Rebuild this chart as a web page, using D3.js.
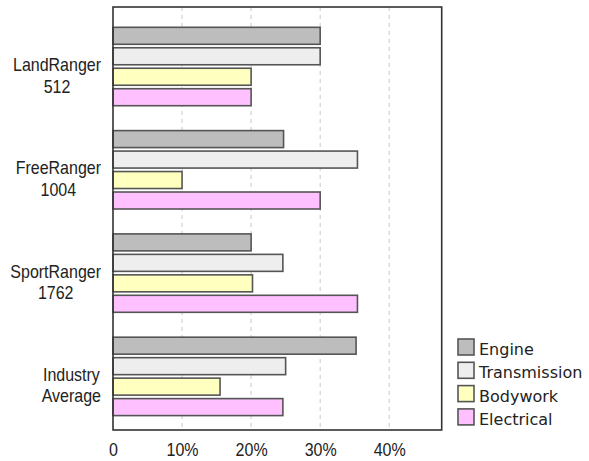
<!DOCTYPE html>
<html><head><meta charset="utf-8">
<script src="https://cdn.jsdelivr.net/npm/d3@7"></script>
<style>html,body{margin:0;padding:0;background:#fff;}</style>
</head><body><svg id="c" width="589" height="461"></svg>
<script>
const categories = [["LandRanger","512"],["FreeRanger","1004"],["SportRanger","1762"],["Industry","Average"]];
const seriesNames = ["Engine","Transmission","Bodywork","Electrical"];
const engine       = [0.30, 0.247, 0.20, 0.352];
const transmission = [0.30, 0.354, 0.246, 0.25];
const bodywork     = [0.20, 0.10, 0.202, 0.155];
const electrical   = [0.20, 0.30, 0.354, 0.246];
const seriesValues = [engine, transmission, bodywork, electrical];
const colors = ["#bdbdbd","#eeeeee","#ffffc0","#ffc0ff"];
const tickValues = [0, 0.1, 0.2, 0.3, 0.4];
const tickLabels = ["0","10%","20%","30%","40%"];

const svg = d3.select("#c");
const L = 113, R = 441.7, T = 7, B = 430;
const x = d3.scaleLinear().domain([0, 0.476]).range([L, R]);
const catKeys = categories.map(c => c.join(" "));
const y0 = d3.scaleBand().domain(catKeys).range([T, B]).paddingInner(0.241).paddingOuter(0.168).align(0.585);
const y1 = d3.scaleBand().domain(seriesNames).range([0, y0.bandwidth()]).paddingInner(0.17).paddingOuter(0);

// grid
svg.append("g").selectAll("line").data(tickValues.slice(1)).join("line")
  .attr("x1", d => x(d)).attr("x2", d => x(d)).attr("y1", T).attr("y2", B)
  .attr("stroke", "#c8c8c8").attr("stroke-width", 1).attr("stroke-dasharray", "4,4");

// bars
const g = svg.append("g");
categories.forEach((cat, ci) => {
  seriesNames.forEach((s, si) => {
    g.append("rect")
      .attr("x", x(0)).attr("y", y0(catKeys[ci]) + y1(s))
      .attr("width", x(seriesValues[si][ci]) - x(0)).attr("height", y1.bandwidth())
      .attr("fill", colors[si]).attr("stroke", "#555").attr("stroke-width", 1.6);
  });
});

// plot border
svg.append("rect").attr("x", L).attr("y", T).attr("width", R - L).attr("height", B - T)
  .attr("fill", "none").attr("stroke", "#333").attr("stroke-width", 1.6);

// x axis
const ax = svg.append("g").attr("transform", `translate(0,${B})`)
  .call(d3.axisBottom(x).tickValues(tickValues).tickFormat((d, i) => tickLabels[i]).tickSize(0));
ax.select(".domain").remove();
ax.selectAll("text").attr("y", 0).attr("dy", 0)
  .attr("transform", "translate(0,26) scale(1,1.2)")
  .attr("font-family", "Liberation Sans, Arial, sans-serif").attr("font-size", 16).attr("fill", "#222");

// category labels
const labRight = 101;
categories.forEach((cat, ci) => {
  const cy = y0(catKeys[ci]) + y0.bandwidth() / 2;
  const grp = svg.append("g");
  const texts = cat.map((line, li) => grp.append("text")
    .attr("font-family", "Liberation Sans, Arial, sans-serif").attr("font-size", 16)
    .attr("fill", "#222").attr("text-anchor", "middle").text(line)
    .attr("transform", `translate(0,${cy + 4.5 + li * 21.5}) scale(1,1.2)`));
  const maxW = d3.max(texts, t => t.node().getComputedTextLength());
  texts.forEach((t, li) => t.attr("transform", `translate(${labRight - maxW / 2},${cy + 4.5 + li * 21.5}) scale(1,1.2)`));
});

// legend
const ly = d3.scaleBand().domain(seriesNames).range([338, 431.2]);
const lg = svg.append("g");
seriesNames.forEach((s, i) => {
  lg.append("rect").attr("x", 458).attr("y", ly(s) + 1).attr("width", 16).attr("height", 16)
    .attr("fill", colors[i]).attr("stroke", "#555").attr("stroke-width", 1.6);
  lg.append("text").attr("x", 479).attr("y", ly(s) + 17)
    .attr("font-family", "DejaVu Sans, Verdana, sans-serif").attr("font-size", 16)
    .attr("fill", "#222").text(s);
});
</script></body></html>
